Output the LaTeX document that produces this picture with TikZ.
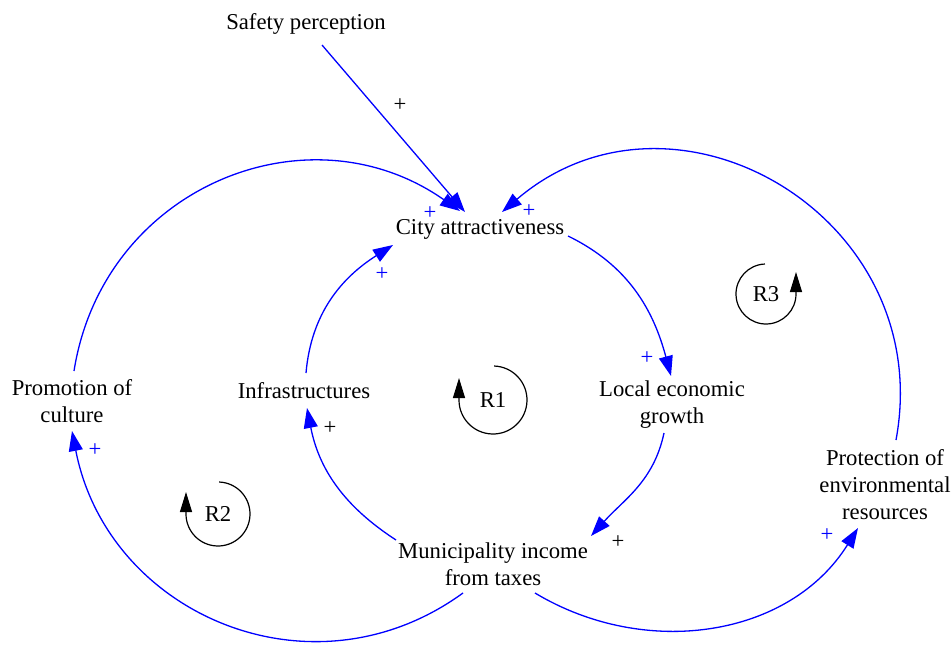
\documentclass[tikz,border=0pt]{standalone}
\usepackage{fontspec}
\setmainfont{Liberation Serif}
\usetikzlibrary{arrows.meta}

\begin{document}
\begin{tikzpicture}[x=1pt,y=1pt,>={Triangle[length=20pt,width=14pt]},
  link/.style={->,draw=blue,line width=1.3pt},
  var/.style={align=center,font=\fontsize{22.7}{27}\selectfont,inner sep=1pt},
  sign/.style={font=\fontsize{22.7}{27}\selectfont,inner sep=0pt},
  loopmark/.style={-{Triangle[length=20pt,width=12pt]},line width=1.2pt}]
\useasboundingbox (0,0) rectangle (951,-645);

% variables
\node[var] (safety) at (306,-24) {Safety perception};
\node[var] (city) at (480,-229) {City attractiveness};
\node[var] (local) at (672,-405) {Local economic\\growth};
\node[var] (muni) at (493,-564) {Municipality income\\from taxes};
\node[var] (infra) at (304,-391) {Infrastructures};
\node[var] (promo) at (72,-401) {Promotion of\\culture};
\node[var] (protect) at (885,-485) {Protection of\\environmental\\resources};

% links
\draw[link] ([shift={(16,-21)}]safety.center) -- ([shift={(-15,17)}]city.center);
\draw[link] ([shift={(2,30)}]promo.center) .. controls +(81:186) and +(145:186) .. ([shift={(-20,18)}]city.center);
\draw[link] ([shift={(11,45)}]protect.center) .. controls +(79.5:227) and +(40.5:227) .. ([shift={(22,17)}]city.center);
\draw[link] ([shift={(88,-7)}]city.center) to[out=-26,in=105] ([shift={(-1,29)}]local.center);
\draw[link] ([shift={(-8,-28)}]local.center) to[out=-102,in=48] ([shift={(98,28)}]muni.center);
\draw[link] ([shift={(-97,24)}]muni.center) to[out=147,in=-79] ([shift={(3,-17)}]infra.center);
\draw[link] ([shift={(2,18)}]infra.center) to[out=85,in=-147.5] ([shift={(-87,-16)}]city.center);
\draw[link] ([shift={(-30,-29)}]muni.center) to[out=216,in=-79,looseness=1.13] ([shift={(0,-30)}]promo.center);
\draw[link] ([shift={(42,-29)}]muni.center) to[out=-31,in=-122] ([shift={(-27,-43)}]protect.center);

% polarities
\node[sign] (p1) at (400,-105) {+};
\node[sign] (p2) at (330,-428) {+};
\node[sign] (p3) at (618,-542) {+};
\node[sign,blue] (p4) at (430,-213) {+};
\node[sign,blue] (p5) at (529,-211) {+};
\node[sign,blue] (p6) at (382,-274) {+};
\node[sign,blue] (p7) at (647,-358) {+};
\node[sign,blue] (p8) at (95,-450) {+};
\node[sign,blue] (p9) at (827,-535) {+};

% loops
\node[sign] (r1) at (493,-400) {R1};
\node[sign] (r2) at (218,-514) {R2};
\node[sign] (r3) at (766,-294) {R3};
\draw[loopmark] (r1.center) ++(88:34) arc[start angle=88,end angle=-180,radius=34] -- ++(0,22);
\draw[loopmark] (r2.center) ++(88:32) arc[start angle=88,end angle=-180,radius=32] -- ++(0,22);
\draw[loopmark] (r3.center) ++(92:30) arc[start angle=92,end angle=360,radius=30] -- ++(0,22);
\end{tikzpicture}
\end{document}
